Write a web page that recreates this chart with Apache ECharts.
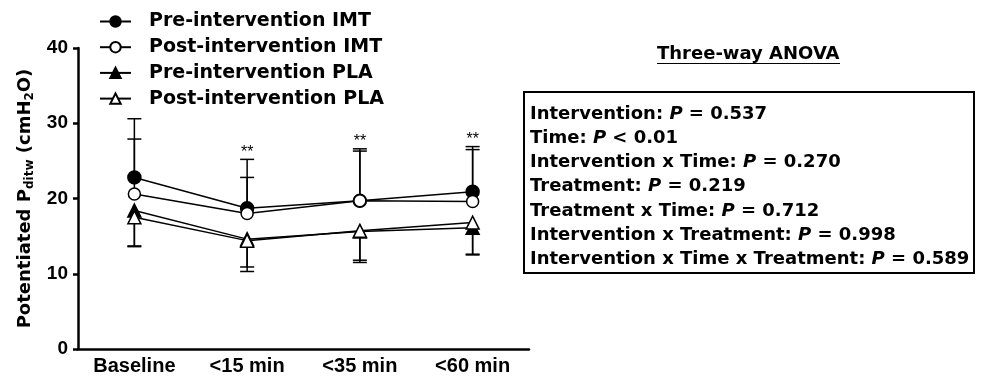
<!DOCTYPE html>
<html><head><meta charset="utf-8">
<script src="https://cdn.jsdelivr.net/npm/echarts@6/dist/echarts.min.js"></script>
<style>html,body{margin:0;padding:0;background:#fff;}#c{width:981px;height:381px;}</style>
</head><body><div id="c"></div>
<script>
var categories = ['Baseline', '<15 min', '<35 min', '<60 min'];
var seriesNames = ['Pre-intervention IMT', 'Post-intervention IMT', 'Pre-intervention PLA', 'Post-intervention PLA'];
var preIMT = [22.8, 18.7, 19.7, 20.9];
var postIMT = [20.6, 18.0, 19.7, 19.6];
var prePLA = [18.4, 14.6, 15.6, 16.1];
var postPLA = [17.5, 14.4, 15.7, 16.8];
// error bar ends (mean +/- SD)
var preIMTUpper = [30.6, 25.2, 26.6, 26.9];
var postIMTUpper = [27.9, 22.8, 26.3, 26.5];
var prePLALower = [13.6, 10.3, 11.5, 12.5];
var postPLALower = [13.7, 10.9, 11.8, 12.6];
var stars = ['', '**', '**', '**'];
var yTicks = [0, 10, 20, 30, 40];
var anovaTitle = 'Three-way ANOVA';
var anovaRows = [
  ['Intervention: ', '= 0.537'],
  ['Time: ', '< 0.01'],
  ['Intervention x Time: ', '= 0.270'],
  ['Treatment: ', '= 0.219'],
  ['Treatment x Time: ', '= 0.712'],
  ['Intervention x Treatment: ', '= 0.998'],
  ['Intervention x Time x Treatment: ', '= 0.589']
];

var ARIAL = '"Liberation Sans", Arial, sans-serif';
var WIDE = '"DejaVu Sans", sans-serif';
var chart = echarts.init(document.getElementById('c'), null, {renderer: 'canvas'});

function errSeries(means, ends) {
  var data = means.map(function (m, i) { return [i, m, ends[i]]; });
  return {
    type: 'custom', silent: true, z: 1,
    data: data,
    renderItem: function (params, api) {
      var p0 = api.coord([api.value(0), api.value(1)]);
      var p1 = api.coord([api.value(0), api.value(2)]);
      var hw = 7;
      return {
        type: 'group',
        children: [
          {type: 'line', shape: {x1: p0[0], y1: p0[1], x2: p1[0], y2: p1[1]}, style: {stroke: '#000', lineWidth: 1.5}},
          {type: 'line', shape: {x1: p1[0] - hw, y1: p1[1], x2: p1[0] + hw, y2: p1[1]}, style: {stroke: '#000', lineWidth: 1.5}}
        ]
      };
    }
  };
}

var starData = stars.map(function (s, i) { return [i, Math.max(preIMTUpper[i], postIMTUpper[i]), s]; });

function lineSeries(name, data, symbol, filled, size) {
  return {
    name: name, type: 'line', data: data, z: 3,
    symbol: symbol, symbolSize: size, showAllSymbol: true,
    lineStyle: {color: '#000', width: 1.5},
    itemStyle: {color: filled ? '#000' : '#fff', borderColor: '#000', borderWidth: 1.5},
    emphasis: {disabled: true},
    animation: false
  };
}

var anovaText = anovaRows.map(function (r) {
  return '{b|' + r[0] + '}{i|P}{b| ' + r[1] + '}';
}).join('\n');

chart.setOption({
  animation: false,
  backgroundColor: '#fff',
  textStyle: {fontFamily: ARIAL},
  grid: {left: 78, right: 452, top: 48, bottom: 32, containLabel: false},
  legend: {
    orient: 'vertical', left: 99, top: 12, padding: 0, itemGap: 6.7,
    itemWidth: 31, itemHeight: 13,
    data: seriesNames,
    textStyle: {fontFamily: WIDE, fontWeight: 'bold', fontSize: 19, lineHeight: 19, color: '#000', padding: [0, 0, 0, 13]},
    selectedMode: false
  },
  xAxis: {
    type: 'category', data: categories, boundaryGap: true,
    axisLine: {lineStyle: {color: '#000', width: 2.5}},
    axisTick: {alignWithLabel: true, length: 5, lineStyle: {color: '#000', width: 2.5}},
    axisLabel: {color: '#000', fontFamily: ARIAL, fontWeight: 'bold', fontSize: 20, margin: 7},
    splitLine: {show: false}
  },
  yAxis: {
    type: 'value', min: 0, max: 40, interval: 10,
    axisLine: {show: true, lineStyle: {color: '#000', width: 2.5}},
    axisTick: {show: true, length: 5, lineStyle: {color: '#000', width: 2.5}},
    axisLabel: {color: '#000', fontFamily: ARIAL, fontWeight: 'bold', fontSize: 19, margin: 10,
      formatter: function (v) { return yTicks.indexOf(v) >= 0 ? String(v) : ''; }},
    splitLine: {show: false},
    name: 'Potentiated P{sub|ditw} (cmH{sub|2}O)',
    nameLocation: 'middle', nameGap: 42, nameRotate: 90,
    nameTextStyle: {
      color: '#000', fontFamily: WIDE, fontWeight: 'bold', fontSize: 18,
      rich: {sub: {fontFamily: WIDE, fontWeight: 'bold', fontSize: 12, color: '#000', verticalAlign: 'bottom', padding: [9, 0, 0, 0]}}
    }
  },
  series: [
    errSeries(preIMT, preIMTUpper),
    errSeries(postIMT, postIMTUpper),
    errSeries(prePLA, prePLALower),
    errSeries(postPLA, postPLALower),
    lineSeries(seriesNames[0], preIMT, 'circle', true, 13),
    lineSeries(seriesNames[1], postIMT, 'circle', false, 12),
    lineSeries(seriesNames[2], prePLA, 'triangle', true, 13),
    lineSeries(seriesNames[3], postPLA, 'triangle', false, 13),
    {
      type: 'custom', silent: true, z: 4, data: starData,
      renderItem: function (params, api) {
        var p = api.coord([api.value(0), api.value(1)]);
        var s = starData[params.dataIndex][2];
        return {type: 'text', x: p[0], y: p[1] + 1,
          style: {text: s, fontSize: 16, fontFamily: ARIAL, fill: '#000', align: 'center', verticalAlign: 'bottom'}};
      }
    }
  ],
  graphic: [
    {type: 'text', left: 657, top: 45,
      style: {text: anovaTitle, fontFamily: WIDE, fontWeight: 'bold', fontSize: 18, fill: '#000'}},
    {type: 'line', shape: {x1: 657, y1: 63.5, x2: 840, y2: 63.5}, style: {stroke: '#000', lineWidth: 1.2}},
    {type: 'rect', shape: {x: 524, y: 92, width: 450, height: 181}, style: {fill: 'none', stroke: '#000', lineWidth: 2}},
    {type: 'text', left: 530, top: 102,
      style: {text: anovaText, fontFamily: WIDE, fontSize: 18, fill: '#000', lineHeight: 24.2,
        rich: {
          b: {fontFamily: WIDE, fontWeight: 'bold', fontSize: 18, fill: '#000', lineHeight: 24.2},
          i: {fontFamily: WIDE, fontWeight: 'bold', fontStyle: 'italic', fontSize: 18, fill: '#000', lineHeight: 24.2}
        }}}
  ]
});
</script></body></html>
